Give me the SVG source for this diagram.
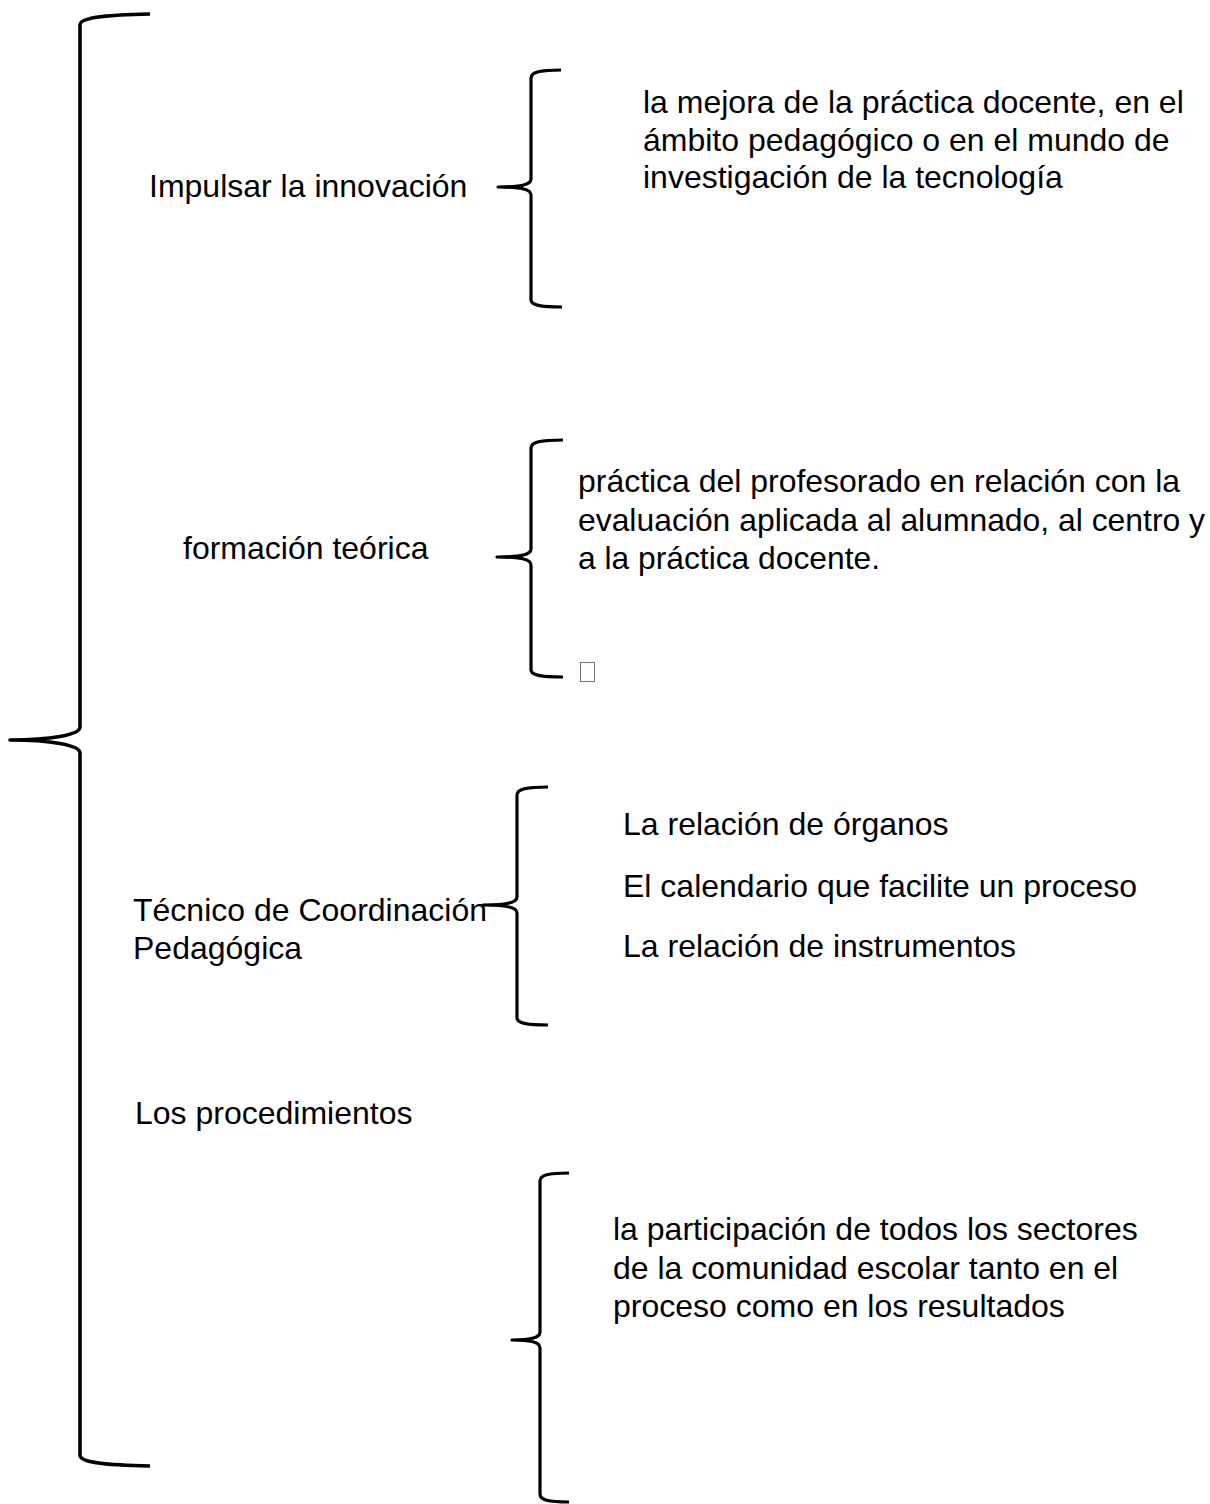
<svg xmlns="http://www.w3.org/2000/svg" width="1210" height="1504" viewBox="0 0 1210 1504">
<style>
.br{fill:none;stroke:#000;stroke-width:3.2;stroke-linecap:butt;stroke-linejoin:round}
.big{stroke-width:3.6}
text{font-family:"Liberation Sans",Arial,sans-serif;font-size:32px;fill:#000}
</style>
<rect width="1210" height="1504" fill="#fff"/>
<g id="connectors">
<path class="br big" d="M150,14 C100,15 80,18 80,25 L80,727 C80,735 50,740 10,740 C50,740 80,745 80,753 L80,1455 C80,1462 100,1465 150,1466"/>
<path class="br" d="M561,70 C540,70 531,72 531,78 L531,179 C531,185 520,187 498,187 C520,187 531,189 531,195 L531,300 C531,305 540,307 562,307"/>
<path class="br" d="M563,440 C540,440 531,442 531,448 L531,549 C531,555 520,557 497,557 C520,557 531,559 531,565 L531,670 C531,675 540,677 563,677"/>
<path class="br" d="M548,787 C526,787 517,789 517,795 L517,897 C517,903 505,905 483,905 C505,905 517,907 517,913 L517,1018 C517,1023 526,1025 548,1025"/>
<path class="br" d="M569,1173 C548,1173 540,1175 540,1181 L540,1332 C540,1338 530,1340 512,1340 C530,1340 540,1342 540,1348 L540,1494 C540,1500 548,1502 569,1502"/>
</g>
<g id="n1">
<text x="149" y="197">Impulsar la innovación</text>
</g>
<g id="n1a">
<text x="643" y="113">la mejora de la práctica docente, en el</text>
<text x="643" y="151">ámbito pedagógico o en el mundo de</text>
<text x="643" y="188">investigación de la tecnología</text>
</g>
<g id="n2">
<text x="183" y="559">formación teórica</text>
</g>
<g id="n2a">
<text x="578" y="492" textLength="602" lengthAdjust="spacingAndGlyphs">práctica del profesorado en relación con la</text>
<text x="578" y="531" textLength="627" lengthAdjust="spacingAndGlyphs">evaluación aplicada al alumnado, al centro y</text>
<text x="578" y="569" textLength="302" lengthAdjust="spacingAndGlyphs">a la práctica docente.</text>
<rect x="580.5" y="662.5" width="14" height="19" fill="none" stroke="#777" stroke-width="1"/>
</g>
<g id="n3">
<text x="133" y="921">Técnico de Coordinación</text>
<text x="133" y="959">Pedagógica</text>
</g>
<g id="n3a">
<text x="623" y="835">La relación de órganos</text>
<text x="623" y="897">El calendario que facilite un proceso</text>
<text x="623" y="957">La relación de instrumentos</text>
</g>
<g id="n4">
<text x="135" y="1124">Los procedimientos</text>
</g>
<g id="n4a">
<text x="613" y="1240">la participación de todos los sectores</text>
<text x="613" y="1279">de la comunidad escolar tanto en el</text>
<text x="613" y="1317">proceso como en los resultados</text>
</g>
</svg>
